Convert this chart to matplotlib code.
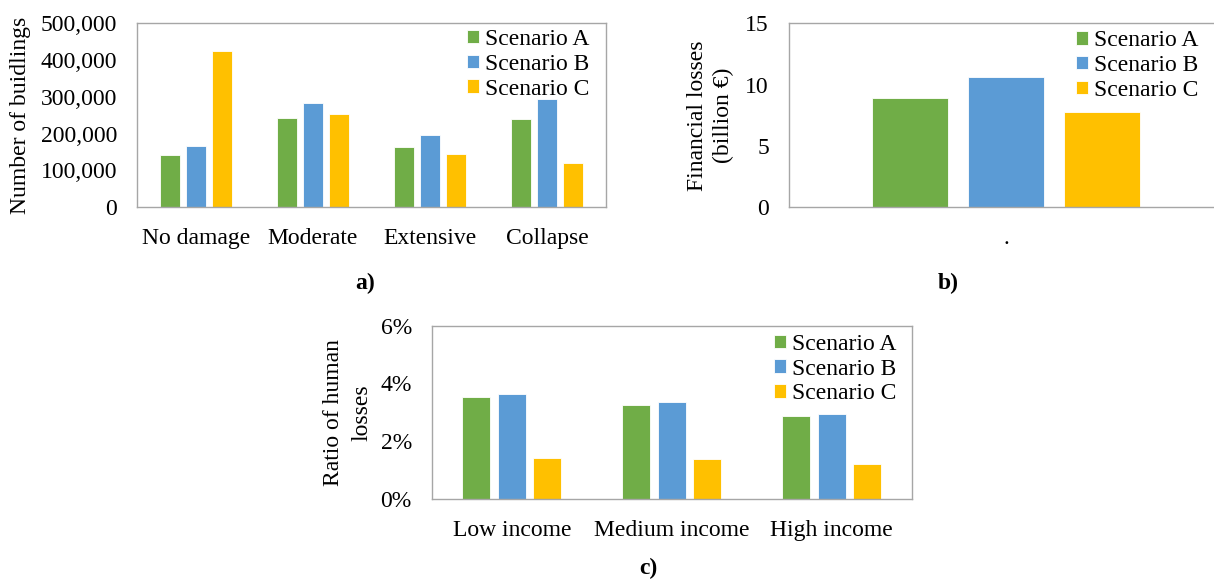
import matplotlib
matplotlib.use("Agg")
import matplotlib.pyplot as plt
from matplotlib.ticker import FuncFormatter

plt.rcParams['font.family'] = ['Liberation Serif', 'DejaVu Serif']

# ---------------- data ----------------
series = ["Scenario A", "Scenario B", "Scenario C"]
colors = ["#70AD47", "#5B9BD5", "#FFC000"]

damage_cats = ["No damage", "Moderate", "Extensive", "Collapse"]
damage_A = [141000, 243000, 164000, 240000]
damage_B = [167000, 283000, 196000, 295000]
damage_C = [425000, 254000, 144000, 120000]

loss_cats = ["."]
loss_A = [8.9]
loss_B = [10.6]
loss_C = [7.8]

income_cats = ["Low income", "Medium income", "High income"]
human_A = [3.52, 3.24, 2.89]
human_B = [3.65, 3.35, 2.94]
human_C = [1.41, 1.37, 1.20]

FS = 17
W, H = 1214, 585
fig = plt.figure(figsize=(W / 100, H / 100), dpi=100)


def px_axes(left, top, right, bottom):
    return fig.add_axes([left / W, 1 - bottom / H, (right - left) / W, (bottom - top) / H])


def draw(ax, cats, vals, yticks, fmt, ylabel, leg_xy, ylab_pad, linesp):
    n = len(cats)
    xs = list(range(n))
    width, step = 0.175, 0.222
    for k, (v, c, lab) in enumerate(zip(vals, colors, series)):
        ax.bar([x + (k - 1) * step for x in xs], v, width=width, color=c,
               label=lab, edgecolor="white", linewidth=0.6, zorder=2)
    ax.set_xlim(-0.5, n - 0.5)
    ax.set_ylim(yticks[0], yticks[-1])
    ax.set_yticks(yticks)
    ax.yaxis.set_major_formatter(FuncFormatter(fmt))
    ax.set_xticks(xs)
    ax.set_xticklabels(cats, fontsize=FS)
    for lab in ax.get_yticklabels():
        lab.set_fontsize(FS)
    ax.tick_params(axis='y', length=0, pad=14.5)
    ax.tick_params(axis='x', length=0, pad=15)
    for s in ax.spines.values():
        s.set_color("#A6A6A6")
        s.set_linewidth(1.0)
    ax.set_ylabel(ylabel, fontsize=FS, linespacing=linesp, labelpad=ylab_pad)
    ax.legend(loc="center left", bbox_to_anchor=leg_xy, frameon=False,
              fontsize=FS, handlelength=0.5, handleheight=0.5,
              handletextpad=0.25, labelspacing=0.16, borderpad=0,
              borderaxespad=0)


ax_a = px_axes(137.3, 23.3, 605.7, 207.3)
draw(ax_a, damage_cats, [damage_A, damage_B, damage_C],
     [0, 100000, 200000, 300000, 400000, 500000],
     lambda v, p: f"{v:,.0f}", "Number of buidlings", (0.704, 0.777), 7, 1.3)

ax_b = px_axes(789, 23.3, 1223, 207.3)
draw(ax_b, loss_cats, [loss_A, loss_B, loss_C], [0, 5, 10, 15],
     lambda v, p: f"{v:.0f}", "Financial losses\n(billion €)", (0.661, 0.770), 8, 1.3)

ax_c = px_axes(432, 325.7, 911.7, 499)
draw(ax_c, income_cats, [human_A, human_B, human_C], [0, 2, 4, 6],
     lambda v, p: f"{v:.0f}%", "Ratio of human\nlosses", (0.713, 0.750), 6, 1.45)

fig.text(365 / W, 1 - 283 / H, "a)", fontsize=FS, fontweight="bold", ha="center", va="center")
fig.text(948 / W, 1 - 283 / H, "b)", fontsize=FS, fontweight="bold", ha="center", va="center")
fig.text(648 / W, 1 - 568 / H, "c)", fontsize=FS, fontweight="bold", ha="center", va="center")

fig.savefig("out.png", dpi=100)
